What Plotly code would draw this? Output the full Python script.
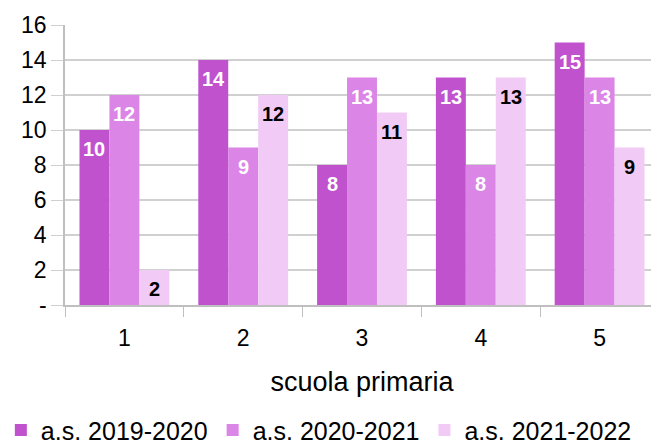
import plotly.graph_objects as go

categories = ["1", "2", "3", "4", "5"]
series_names = ["a.s. 2019-2020", "a.s. 2020-2021", "a.s. 2021-2022"]
values_2019 = [10, 14, 8, 13, 15]
values_2020 = [12, 9, 13, 8, 13]
values_2021 = [2, 12, 11, 13, 9]
y_ticks = [0, 2, 4, 6, 8, 10, 12, 14, 16]
y_tick_labels = ["-", "2", "4", "6", "8", "10", "12", "14", "16"]

colors = ["#C152CE", "#DB85E7", "#F1CBF6"]
text_colors = ["white", "white", "black"]
bargap = 0.244
all_series = [values_2019, values_2020, values_2021]

fig = go.Figure()
for name, vals, col in zip(series_names, all_series, colors):
    fig.add_trace(go.Bar(x=categories, y=vals, name=name, marker=dict(color=col, line=dict(width=0))))

# value labels just under the top of each bar
bar_w = (1 - bargap) / len(all_series)
for i, (vals, tcol) in enumerate(zip(all_series, text_colors)):
    off = (i - (len(all_series) - 1) / 2) * bar_w
    for j, v in enumerate(vals):
        fig.add_annotation(x=j + off, y=v, yshift=-19, yanchor="middle", text=f"<b>{v}</b>", showarrow=False,
                           font=dict(color=tcol, size=20, family="Liberation Sans, Arial"))

# the page body has an 8px margin, so the figure is drawn 8px smaller and shifted
fig.update_layout(
    width=651, height=436,
    margin=dict(l=57, r=0, t=17, b=139, autoexpand=False),
    paper_bgcolor="white", plot_bgcolor="white",
    barmode="group", bargap=bargap, bargroupgap=0,
    font=dict(family="Liberation Sans, Arial", size=23, color="black"),
    legend=dict(orientation="h", x=-0.108, xanchor="left", y=-0.365, yanchor="top",
                font=dict(size=25), itemwidth=30, tracegroupgap=0),
    showlegend=True,
)
fig.update_xaxes(
    type="category", tickson="boundaries", ticks="outside", ticklen=10, tickcolor="#BFBFBF",
    ticklabelstandoff=12,
    showline=True, linecolor="#BFBFBF", linewidth=1.5, showgrid=False,
    title=dict(text="scuola primaria", standoff=22, font=dict(size=27)), tickfont=dict(size=23),
)
fig.update_yaxes(
    range=[0, 16], tickvals=y_ticks, ticktext=y_tick_labels,
    ticks="outside", ticklen=12, tickcolor="#D0D0D0",
    showgrid=True, gridcolor="#D0D0D0", gridwidth=1.5,
    showline=True, linecolor="#BFBFBF", linewidth=1.5, zeroline=False,
    tickfont=dict(size=23),
)

fig.write_html("out.html")
